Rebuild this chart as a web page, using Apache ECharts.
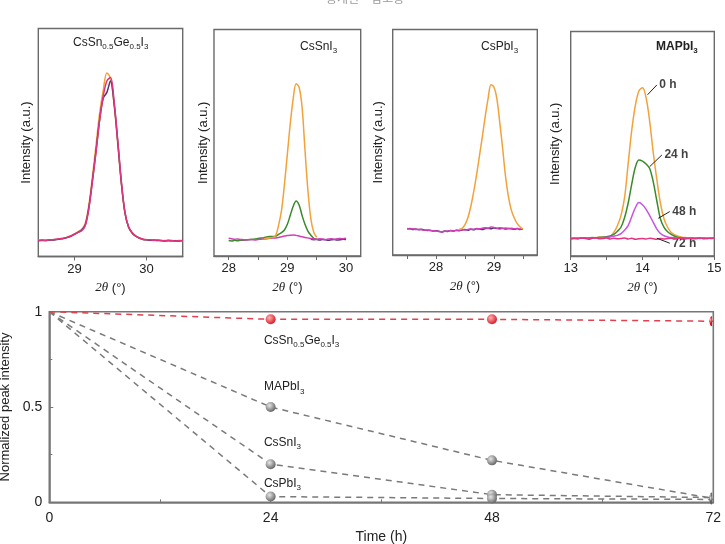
<!DOCTYPE html>
<html>
<head>
<meta charset="utf-8">
<script src="https://cdn.jsdelivr.net/npm/echarts@6/dist/echarts.min.js"></script>
<style>
  html, body { margin: 0; padding: 0; background: #fff; }
  #chart { width: 725px; height: 544px; }
</style>
</head>
<body>
<div id="chart"></div>
<script>
// ---- XRD panels: 2theta sample positions and intensities (a.u.) ----
const x1 = [28.50,28.55,28.60,28.65,28.70,28.75,28.80,28.85,28.90,28.95,29.00,29.05,29.10,29.15,29.20,29.25,29.30,29.35,29.40,29.45,29.50,
            29.55,29.60,29.65,29.70,29.75,29.80,29.85,29.90,29.95,30.00,30.05,30.10,30.15,30.20,30.25,30.30,30.35,30.40,30.45,30.50];
const gesnOrange = [7.1,7.0,7.2,7.1,7.3,7.5,7.7,8.0,8.5,9.1,9.9,10.9,12.0,14.5,22.5,35.0,49.0,63.0,73.0,80.5,78.0,
                    66.5,49.5,32.0,19.0,12.8,10.2,8.9,8.0,7.6,7.3,7.2,7.0,7.1,6.9,7.0,6.8,6.9,6.7,6.9,6.8];
const gesnDark = [6.9,7.1,7.0,7.2,7.2,7.4,7.7,7.9,8.3,8.9,9.7,10.6,11.5,13.8,21.5,33.5,46.5,60.0,69.5,72.0,77.0,
                  67.0,50.5,32.5,19.2,12.9,10.3,8.9,8.1,7.5,7.3,7.1,7.2,7.0,7.0,6.8,7.0,6.9,6.9,6.8,7.0];
const gesnPink = [7.0,7.2,7.0,7.3,7.4,7.6,7.8,8.0,8.4,9.0,9.8,10.6,11.3,13.5,21.0,33.0,46.0,60.0,70.5,77.0,78.5,
                  68.0,51.0,33.0,19.5,13.0,10.5,9.0,8.1,7.6,7.4,7.3,7.1,7.2,7.0,6.9,7.1,7.0,6.8,7.0,6.9];

const x2 = [28.00,28.05,28.10,28.15,28.20,28.25,28.30,28.35,28.40,28.45,28.50,28.55,28.60,28.65,28.70,28.75,28.80,28.85,28.90,28.95,29.00,
            29.05,29.10,29.15,29.20,29.25,29.30,29.35,29.40,29.45,29.50,29.55,29.60,29.65,29.70,29.75,29.80,29.85,29.90,29.95,30.00];
const snOrange = [null,null,null,null,null,null,null,null,null,null,null,null,
                  7.6,7.8,7.9,8.2,9.0,13.5,20.0,31.5,45.0,58.5,69.5,76.0,74.5,66.0,47.0,29.0,16.5,10.5,8.3,
                  null,null,null,null,null,null,null,null,null,null];
const snGreen = [6.8,6.6,6.9,6.7,7.0,6.9,7.1,7.2,7.4,7.5,7.7,7.9,8.1,8.4,8.6,8.6,8.7,9.5,10.3,11.5,14.0,
                 18.0,22.0,24.3,22.5,18.0,14.0,11.0,9.2,7.8,7.4,
                 null,null,null,null,null,null,null,null,null,null];
const snDark = [null,null,null,null,null,null,null,null,null,null,null,null,null,null,null,null,null,null,null,null,null,
                null,null,null,null,null,null,null,
                7.4,7.2,7.3,7.1,7.3,7.2,7.0,7.2,7.3,7.1,7.2,7.4,7.3];
const snMagenta = [7.8,7.6,7.4,7.5,7.3,7.2,7.1,7.3,7.2,7.1,7.3,7.4,7.5,7.6,7.8,7.9,8.0,8.2,8.5,8.8,9.0,
                   9.2,9.3,9.1,8.8,8.5,8.2,8.0,7.7,7.5,7.4,7.6,7.5,7.3,7.5,7.6,7.4,7.6,7.7,7.6,7.8];

const x3 = [27.50,27.55,27.60,27.65,27.70,27.75,27.80,27.85,27.90,27.95,28.00,28.05,28.10,28.15,28.20,28.25,28.30,28.35,28.40,28.45,28.50,
            28.55,28.60,28.65,28.70,28.75,28.80,28.85,28.90,28.95,29.00,29.05,29.10,29.15,29.20,29.25,29.30,29.35,29.40,29.45,29.50];
const pbOrange = [null,null,null,null,null,null,null,null,null,null,null,null,null,null,null,null,null,null,
                  11.4,11.8,13.5,16.5,21.5,28.0,35.5,44.0,52.5,61.5,69.5,75.5,74.5,69.5,59.0,47.5,35.0,26.0,20.0,16.5,14.0,12.5,11.5];
const pbDark = [11.5,11.7,11.3,11.5,11.2,11.4,11.1,10.9,11.0,10.6,10.8,10.5,10.2,10.6,10.4,10.9,10.6,11.0,10.8,11.1,11.3,
                11.0,11.4,11.2,11.6,11.5,11.3,11.7,11.9,11.6,12.0,11.8,11.6,11.9,11.5,11.8,11.6,11.4,11.7,11.3,11.5];
const pbMagenta = [11.8,11.5,11.6,11.3,11.4,11.2,11.0,11.1,10.8,10.7,10.6,10.4,10.3,10.5,10.6,10.8,10.7,10.9,11.0,11.2,11.1,
                   11.3,11.5,11.4,11.7,11.6,11.9,12.1,11.8,12.4,12.2,11.9,12.1,11.8,12.0,11.7,11.9,11.6,11.8,11.5,11.7];

const x4 = [13.00,13.05,13.10,13.15,13.20,13.25,13.30,13.35,13.40,13.45,13.50,13.55,13.60,13.65,13.70,13.75,13.80,13.85,13.90,13.95,14.00,
            14.05,14.10,14.15,14.20,14.25,14.30,14.35,14.40,14.45,14.50,14.55,14.60,14.65,14.70,14.75,14.80,14.85,14.90,14.95,15.00];
const ma0h = [7.8,7.9,7.7,8.0,7.9,8.1,8.0,8.2,8.3,8.5,8.4,8.7,10.5,13.5,18.0,26.0,41.0,56.0,67.0,73.5,75.0,
              70.5,60.0,46.0,34.0,23.5,16.5,12.8,10.5,9.4,8.8,8.4,8.2,8.0,8.1,7.9,8.0,7.8,7.9,8.0,7.9];
const ma24h = [7.9,7.8,8.0,7.9,8.1,8.0,8.2,8.1,8.3,8.4,8.6,8.9,9.6,11.0,12.8,17.0,23.5,32.0,39.5,42.8,42.3,
               41.0,39.0,33.0,24.5,16.5,12.8,10.8,9.6,8.8,8.3,8.1,8.0,7.9,8.0,7.8,7.9,8.0,7.8,7.9,7.9];
const ma48h = [7.8,7.9,7.8,8.0,7.9,8.0,7.9,8.1,8.0,8.2,8.3,8.5,8.8,9.2,10.0,11.5,13.5,17.5,21.5,23.8,22.8,
               20.8,18.0,15.0,12.0,10.0,9.0,8.5,8.2,8.1,8.0,7.9,8.0,7.8,7.9,8.0,7.8,7.9,7.8,8.0,7.9];
const ma72h = [7.6,7.9,7.7,8.0,7.8,7.5,7.9,8.1,7.7,7.8,8.0,7.6,7.9,7.7,7.8,8.0,7.6,7.9,7.5,7.7,7.8,
               7.6,7.9,7.7,7.5,7.8,7.6,7.8,7.9,7.7,8.0,7.8,7.6,7.9,7.7,7.8,8.0,7.7,7.9,7.8,7.9];

// MAPbI3 panel annotations (leader line start -> end, label at the end)
const maTags = ['0 h', '24 h', '48 h', '72 h'];
const maTagFrom = [[14.07, 71.8], [14.10, 39.8], [14.22, 16.8], [14.20, 7.9]];
const maTagTo = [[14.20, 76.2], [14.27, 45.0], [14.38, 19.8], [14.38, 5.7]];

// ---- bottom panel: normalized peak intensity vs time ----
const times = [0, 24, 48, 72];
const gesnNorm = [1, 0.96, 0.96, 0.95];
const mapbNorm = [1, 0.50, 0.22, 0.02];
const cssnNorm = [1, 0.20, 0.04, 0.025];
const cspbNorm = [1, 0.03, 0.02, 0.015];

const FONT = '"Liberation Sans", Arial, sans-serif';
const TXT = '#222';
const FRAME = '#6a6a6a';
const C_ORANGE = '#f2a23a', C_GREEN = '#3a8a2c', C_VIOLET = '#c653e2', C_PINK = '#e2347f',
      C_MAGENTA = '#d23fb8', C_DARK = '#523478';

const chemRich = {
  m: { fontSize: 12, color: TXT, fontFamily: FONT, fontWeight: 'normal' },
  s: { fontSize: 8, color: TXT, fontFamily: FONT, fontWeight: 'normal', padding: [9, 0, 0, 0] }
};
const chemRichBold = {
  m: { fontSize: 12, color: TXT, fontFamily: FONT, fontWeight: 'bold' },
  s: { fontSize: 8, color: TXT, fontFamily: FONT, fontWeight: 'bold', padding: [9, 0, 0, 0] }
};
const thetaName = {
  fontSize: 13, color: TXT, fontFamily: FONT,
  rich: { i: { fontSize: 13, fontStyle: 'italic', fontFamily: '"Liberation Serif", serif', color: TXT },
          n: { fontSize: 13, fontFamily: FONT, color: TXT } }
};

const panels = [
  { left: 38.3, top: 28.5, width: 144.4, height: 228, min: 28.5, max: 30.5, labels: [29, 30], ticks: [29, 30], gap: 5 },
  { left: 214, top: 29.5, width: 146.7, height: 226.5, min: 27.75, max: 30.25, labels: [28, 29, 30], ticks: [28, 28.5, 29, 29.5, 30], gap: 4 },
  { left: 392.7, top: 29.5, width: 144.6, height: 225.5, min: 27.25, max: 29.75, labels: [28, 29], ticks: [27.5, 28, 28.5, 29, 29.5], gap: 8 },
  { left: 570.7, top: 31.5, width: 143.6, height: 224.5, min: 13, max: 15, labels: [13, 14, 15], ticks: [13, 13.5, 14, 14.5, 15], gap: 9 }
];

const grids = panels.map(p => ({
  left: p.left, top: p.top, width: p.width, height: p.height,
  show: true, borderColor: FRAME, borderWidth: 1.4, containLabel: false, outerBoundsMode: 'none'
}));
grids.push({ left: 49.3, top: 311.7, width: 664, height: 190.6, show: true, borderColor: '#777', borderWidth: 1.6,
             containLabel: false, outerBoundsMode: 'none' });

const xAxes = panels.map((p, i) => ({
  type: 'value', gridIndex: i, min: p.min, max: p.max,
  axisLine: { show: true, lineStyle: { color: FRAME, width: 1.4 } },
  axisTick: { show: true, inside: false, length: 4, customValues: p.ticks, lineStyle: { color: FRAME } },
  axisLabel: { customValues: p.labels, color: TXT, fontSize: 13, fontFamily: FONT, margin: 6 },
  splitLine: { show: false },
  name: '{i|2θ}{n| (°)}', nameLocation: 'middle', nameGap: 25, nameTextStyle: thetaName
}));
xAxes.push({
  type: 'value', gridIndex: 4, min: 0, max: 72, interval: 24,
  axisLine: { show: true, lineStyle: { color: '#777', width: 1.6 } },
  axisTick: { show: true, inside: true, length: 4, lineStyle: { color: '#777' } },
  minorTick: { show: true, splitNumber: 2, length: 3, lineStyle: { color: '#777' } },
  axisLabel: { color: TXT, fontSize: 14, fontFamily: FONT, margin: 9 },
  splitLine: { show: false },
  name: 'Time (h)', nameLocation: 'middle', nameGap: 28,
  nameTextStyle: { color: TXT, fontSize: 14, fontFamily: FONT }
});

const yAxes = panels.map((p, i) => ({
  type: 'value', gridIndex: i, min: 0, max: 100,
  axisLine: { show: false }, axisTick: { show: false }, axisLabel: { show: false }, splitLine: { show: false },
  name: 'Intensity (a.u.)', nameLocation: 'middle', nameGap: p.gap, nameRotate: 90,
  nameTextStyle: { color: TXT, fontSize: 13, fontFamily: FONT }
}));
yAxes.push({
  type: 'value', gridIndex: 4, min: 0, max: 1, interval: 0.5,
  axisLine: { show: true, lineStyle: { color: '#777', width: 1.6 } },
  axisTick: { show: true, inside: true, length: 4, lineStyle: { color: '#777' } },
  minorTick: { show: true, splitNumber: 2, length: 3, lineStyle: { color: '#777' } },
  axisLabel: { color: TXT, fontSize: 14, fontFamily: FONT, margin: 7 },
  splitLine: { show: false },
  name: 'Normalized peak intensity', nameLocation: 'middle', nameGap: 35,
  nameTextStyle: { color: TXT, fontSize: 13, fontFamily: FONT }
});

function curve(idx, xs, ys, color) {
  return {
    type: 'line', xAxisIndex: idx, yAxisIndex: idx, silent: true,
    data: xs.map((x, i) => [x, ys[i] == null ? '-' : ys[i]]),
    showSymbol: false, symbol: 'none', smooth: 0.35,
    lineStyle: { color, width: 1.5 }
  };
}

function ball(c0, c1) {
  return { type: 'radial', x: 0.38, y: 0.35, r: 0.7,
    colorStops: [{ offset: 0, color: c0 }, { offset: 1, color: c1 }] };
}

// the markers on the right frame are cut in half by the plot edge
const HALF_DISC = 'path://M10,0 A10,10 0 0,0 10,20 Z';

function decay(vals, lineColor, ballColor, labelText, labelPos) {
  const last = times.length - 1;
  return {
    type: 'line', xAxisIndex: 4, yAxisIndex: 4, silent: true, clip: true,
    symbol: 'circle', symbolSize: 10, symbolKeepAspect: true,
    itemStyle: { color: ballColor },
    lineStyle: { color: lineColor, width: 1.5, type: [6, 5] },
    label: { show: false },
    data: times.map((t, i) => {
      const item = { value: [t, vals[i]] };
      if (i === 0) item.symbolSize = 0;
      if (i === last) { item.symbol = HALF_DISC; item.symbolSize = [5, 10]; item.symbolOffset = [-2.5, 0]; }
      if (i === 1) item.label = {
        show: true, formatter: labelText, position: labelPos,
        align: 'left', verticalAlign: 'middle', rich: chemRich
      };
      return item;
    })
  };
}

const series = [
  curve(0, x1, gesnOrange, C_ORANGE), curve(0, x1, gesnDark, C_DARK), curve(0, x1, gesnPink, C_PINK),
  curve(1, x2, snGreen, C_GREEN), curve(1, x2, snDark, C_DARK), curve(1, x2, snMagenta, C_MAGENTA), curve(1, x2, snOrange, C_ORANGE),
  curve(2, x3, pbDark, C_DARK), curve(2, x3, pbMagenta, C_MAGENTA), curve(2, x3, pbOrange, C_ORANGE),
  curve(3, x4, ma0h, C_ORANGE), curve(3, x4, ma24h, C_GREEN), curve(3, x4, ma48h, C_VIOLET), curve(3, x4, ma72h, C_PINK),
  {
    type: 'scatter', xAxisIndex: 3, yAxisIndex: 3, silent: true,
    symbolSize: 1, itemStyle: { color: 'rgba(0,0,0,0)' },
    data: maTagTo.map((p, i) => ({ value: p, name: maTags[i] })),
    label: { show: true, position: 'right', distance: 2, formatter: '{b}', color: '#111', fontSize: 12,
             fontWeight: 'bold', fontFamily: FONT },
    markLine: {
      silent: true, symbol: ['none', 'none'], animation: false,
      label: { show: false },
      lineStyle: { color: '#222', width: 1, type: 'solid' },
      data: maTagFrom.map((p, i) => [{ coord: p }, { coord: maTagTo[i] }])
    }
  },
  decay(mapbNorm, '#7a7a7a', ball('#e6e6e6', '#5e5e5e'), '{m|MAPbI}{s|3}', [-1.7, -15]),
  decay(cssnNorm, '#7a7a7a', ball('#e6e6e6', '#5e5e5e'), '{m|CsSnI}{s|3}', [-1.7, -16.6]),
  decay(cspbNorm, '#7a7a7a', ball('#e6e6e6', '#5e5e5e'), '{m|CsPbI}{s|3}', [-1.7, -8]),
  decay(gesnNorm, '#e0404f', ball('#ffb3b3', '#d8101c'), '{m|CsSn}{s|0.5}{m|Ge}{s|0.5}{m|I}{s|3}', [-1.7, 26])
];

const titles = [
  { text: '{m|CsSn}{s|0.5}{m|Ge}{s|0.5}{m|I}{s|3}', left: 73, top: 34, rich: chemRich },
  { text: '{m|CsSnI}{s|3}', left: 300, top: 38, rich: chemRich },
  { text: '{m|CsPbI}{s|3}', left: 481, top: 38, rich: chemRich },
  { text: '{m|MAPbI}{s|3}', left: 656, top: 38, rich: chemRichBold }
].map(t => ({ text: t.text, left: t.left, top: t.top, padding: 0,
              textStyle: { fontWeight: 'normal', rich: t.rich } }));

const chart = echarts.init(document.getElementById('chart'), null, { renderer: 'canvas' });
chart.setOption({
  animation: false,
  backgroundColor: '#fff',
  title: titles,
  grid: grids,
  xAxis: xAxes,
  yAxis: yAxes,
  series: series,
  graphic: [{
    type: 'text', left: 326, top: -8, silent: true,
    style: { text: '공개된 · 참고용', fill: '#999', font: '12px "Noto Sans CJK KR", sans-serif' }
  }]
});
</script>
</body>
</html>
